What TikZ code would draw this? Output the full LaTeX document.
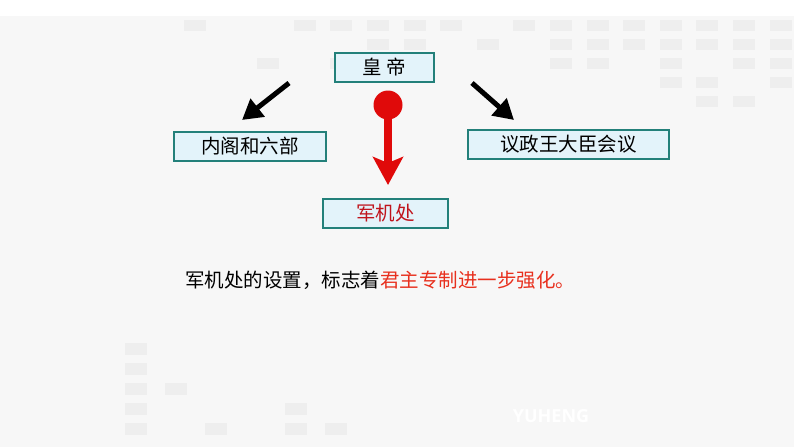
\documentclass[tikz,border=0pt]{standalone}
\usepackage{fontspec}
\setmainfont{Noto Sans CJK SC}
\newfontfamily\markfont{Open Sans}
\usetikzlibrary{arrows.meta, positioning}
\definecolor{hgteal}{HTML}{23807A}
\definecolor{hgfill}{HTML}{E3F3FA}
\definecolor{hgred}{HTML}{E00A0A}
\definecolor{hgdark}{HTML}{C0141C}
\definecolor{hgorange}{HTML}{E8301E}
\definecolor{hgbg}{HTML}{F7F7F7}
\definecolor{hgsq}{HTML}{EEEEEE}

\begin{document}
\begin{tikzpicture}[
  x=1pt, y=-1pt,
  every node/.style={font=\fontsize{19.5}{22}\selectfont},
  boxnode/.style={rectangle, draw=hgteal, fill=hgfill, line width=2pt, minimum height=29pt, inner sep=0pt, align=center},
  blkarrow/.style={line width=5pt, -{Triangle[length=20pt, width=22pt]}},
  redarrow/.style={hgred, line width=8pt, -{Stealth[length=28pt, width=30pt, inset=6pt]}},
]
% background
\fill[hgbg] (0,0) rectangle (794,447);
\fill[white] (0,0) rectangle (794,16);
\useasboundingbox (0,0) rectangle (794,447);
\foreach \r/\cols in {0/{0,3,4,5,6,7,9,10,11,12,13,14,15,16}, 1/{5,6,8,10,11,12,13,14,15,16}, 2/{2,4,10,11,13,15,16}, 3/{13,14,16}, 4/{14,15}} {
  \foreach \k in \cols {
    \fill[hgsq] ({184+36.6*\k}, {20+19*\r}) rectangle +(22,11);
  }
}
\foreach \c/\r in {0/0, 0/1, 0/2, 0/3, 0/4, 1/2, 2/4, 4/3, 4/4, 5/4} {
  \fill[hgsq] ({125+40*\c}, {343+20*\r}) rectangle +(22,12);
}

\node[boxnode, minimum width=99pt] (huangdi) at (384,67.5) {皇 帝};
\node[boxnode, minimum width=152pt] (neige) at (250,146.5) {内阁和六部};
\node[boxnode, minimum width=201pt] (yizheng) at (568.5,144) {议政王大臣会议};
\node[boxnode, minimum width=125pt, text=hgdark] (junji) at (385.5,213.5) {军机处};

\coordinate (lstart) at (289,83);
\coordinate (ltip) at (242,120);
\coordinate (rstart) at (472,83);
\coordinate (rtip) at (514,120);
\draw[blkarrow] (lstart) -- (ltip);
\draw[blkarrow] (rstart) -- (rtip);

\node[circle, fill=hgred, minimum size=29pt, inner sep=0pt] (dot) at (388,105) {};
\draw[redarrow, shorten >=13pt] (dot.center) -- (dot |- junji.north);

\node[anchor=west, inner sep=0pt] (summary) at (185,280) {军机处的设置，标志着\textcolor{hgorange}{君主专制进一步强化。}};
\node[text=white, font=\markfont\bfseries\fontsize{18}{20}\selectfont] (mark) at (551,416) {YUHENG};
\end{tikzpicture}
\end{document}
